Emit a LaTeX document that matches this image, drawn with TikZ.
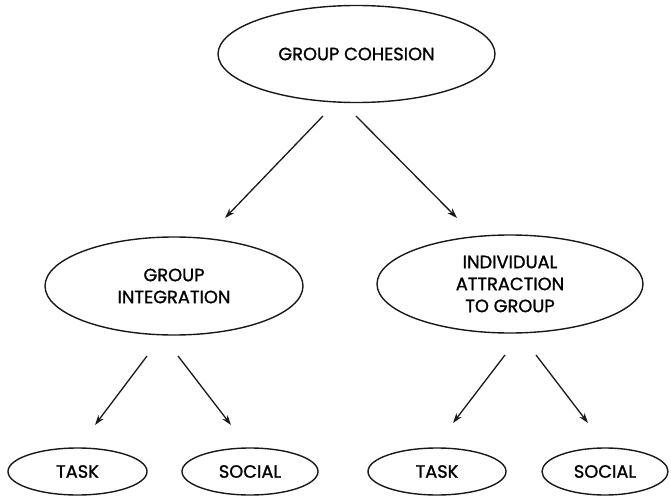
\documentclass[tikz,border=0pt]{standalone}
\usepackage{fontspec}
\setmainfont{Poppins}
\newfontfamily\labelfont{Poppins}[FakeBold=1.2]
\usetikzlibrary{shapes.geometric,arrows.meta}
\begin{document}
\begin{tikzpicture}[x=1pt,y=1pt,
  oval/.style={ellipse,draw=black!90,line width=1.4pt,inner sep=0pt,align=center,
    font=\labelfont\fontsize{17.8}{22}\selectfont},
  conn/.style={draw=black!90,line width=1.3pt,-{Stealth[length=10pt,width=6.5pt]}}]
\useasboundingbox (0,0) rectangle (671,496);
\node[oval,minimum width=277pt,minimum height=97pt] (top) at (356.5,442) {GROUP COHESION};
\node[oval,minimum width=258pt,minimum height=98pt] (gi) at (174,210) {GROUP\\INTEGRATION};
\node[oval,minimum width=266pt,minimum height=98pt] (ia) at (510,212) {INDIVIDUAL\\ATTRACTION\\TO GROUP};
\node[oval,minimum width=139pt,minimum height=47pt] (t1) at (77.5,24.5) {TASK};
\node[oval,minimum width=136pt,minimum height=47pt] (s1) at (250,24.5) {SOCIAL};
\node[oval,minimum width=138pt,minimum height=47pt] (t2) at (437,24.5) {TASK};
\node[oval,minimum width=126pt,minimum height=47pt] (s2) at (605,24.5) {SOCIAL};
\coordinate (a1s) at (323,380); \coordinate (a1e) at (225,278);
\coordinate (a2s) at (356,380); \coordinate (a2e) at (457,278);
\coordinate (a3s) at (147,140); \coordinate (a3e) at (95,71);
\coordinate (a4s) at (178,140); \coordinate (a4e) at (231,71);
\coordinate (a5s) at (505,141); \coordinate (a5e) at (453,73);
\coordinate (a6s) at (536,141); \coordinate (a6e) at (588,73);
\draw[conn] (a1s) -- (a1e);
\draw[conn] (a2s) -- (a2e);
\draw[conn] (a3s) -- (a3e);
\draw[conn] (a4s) -- (a4e);
\draw[conn] (a5s) -- (a5e);
\draw[conn] (a6s) -- (a6e);
\end{tikzpicture}
\end{document}
